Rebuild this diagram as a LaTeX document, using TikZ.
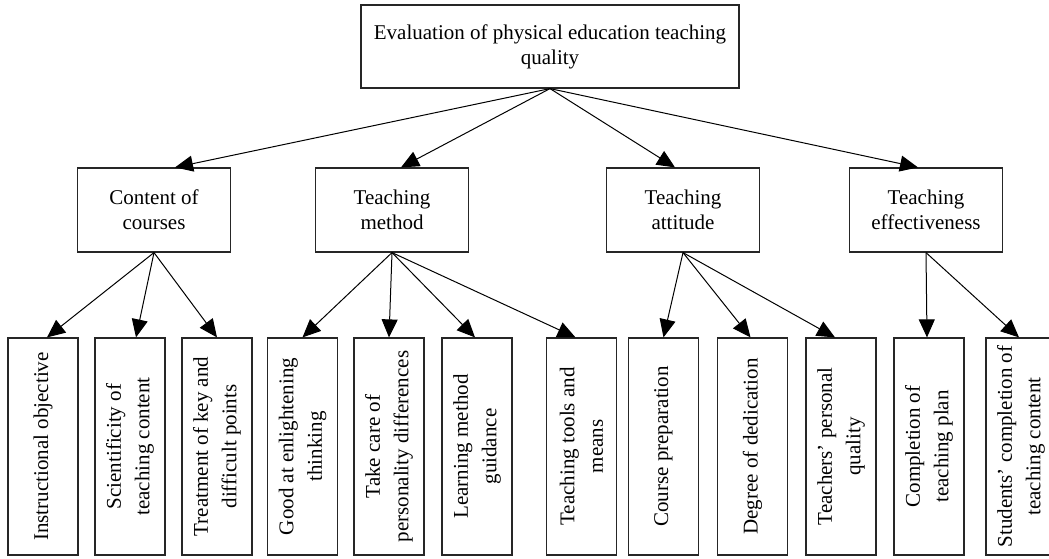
\documentclass[tikz,border=0pt]{standalone}
\usepackage{fontspec}
\setmainfont{Liberation Serif}
\usetikzlibrary{arrows.meta,calc}
\begin{document}
\begin{tikzpicture}[x=1pt,y=-1pt,
  box/.style={draw=black!85,line width=1.2pt,inner sep=0pt,align=center,
    font=\fontsize{21}{25}\selectfont},
  topbox/.style={box,minimum width=378pt,minimum height=83pt},
  midbox/.style={box,minimum width=153pt,minimum height=84pt},
  leafbox/.style={draw=black!85,line width=1.2pt,inner sep=0pt,minimum width=70pt,minimum height=217pt},
  leaftext/.style={rotate=90,align=center,font=\fontsize{21}{28.5}\selectfont,inner sep=0pt},
  arr/.style={line width=1pt,-{Triangle[length=18pt,width=16pt]}}]
\useasboundingbox (0,0) rectangle (1049,559);
\node[topbox] (top) at (550,46.5) {Evaluation of physical education teaching\\quality};
\node[midbox] (c) at (154,210) {Content of\\courses};
\node[midbox] (m) at (392,210) {Teaching\\method};
\node[midbox] (a) at (683,210) {Teaching\\attitude};
\node[midbox] (e) at (926,210) {Teaching\\effectiveness};
\foreach \n/\x/\t in {
  l1/43/{Instructional objective},
  l2/130/{Scientificity of\\teaching content},
  l3/217/{Treatment of key and\\difficult points},
  l4/302.5/{Good at enlightening\\thinking},
  l5/389/{Take care of\\personality differences},
  l6/477/{Learning method\\guidance},
  l7/581.5/{Teaching tools and\\means},
  l8/663.5/{Course preparation},
  l9/752.5/{Degree of dedication},
  l10/841/{Teachers' personal\\quality},
  l11/929/{Completion of\\teaching plan},
  l12/1021/{Students' completion of\\teaching content}}{
  \node[leafbox] (\n) at (\x,446.5) {};
  \node[leaftext] (\n t) at (\n.center) {\t};
}
\draw[arr] (top.south) -- ([xshift=21pt]c.north);
\draw[arr] (top.south) -- ([xshift=9pt]m.north);
\draw[arr] (top.south) -- ([xshift=-8pt]a.north);
\draw[arr] (top.south) -- ([xshift=-8pt]e.north);
\draw[arr] (c.south) -- ([xshift=4pt]l1.north);
\draw[arr] (c.south) -- ([xshift=6pt]l2.north);
\draw[arr] (c.south) -- (l3.north);
\draw[arr] (m.south) -- (l4.north);
\draw[arr] (m.south) -- (l5.north);
\draw[arr] (m.south) -- ([xshift=-2pt]l6.north);
\draw[arr] (m.south) -- ([xshift=-6pt]l7.north);
\draw[arr] (a.south) -- (l8.north);
\draw[arr] (a.south) -- ([xshift=-2pt]l9.north);
\draw[arr] (a.south) -- ([xshift=-6pt]l10.north);
\draw[arr] (e.south) -- ([xshift=-2pt]l11.north);
\draw[arr] (e.south) -- ([xshift=-2pt]l12.north);
\end{tikzpicture}
\end{document}
